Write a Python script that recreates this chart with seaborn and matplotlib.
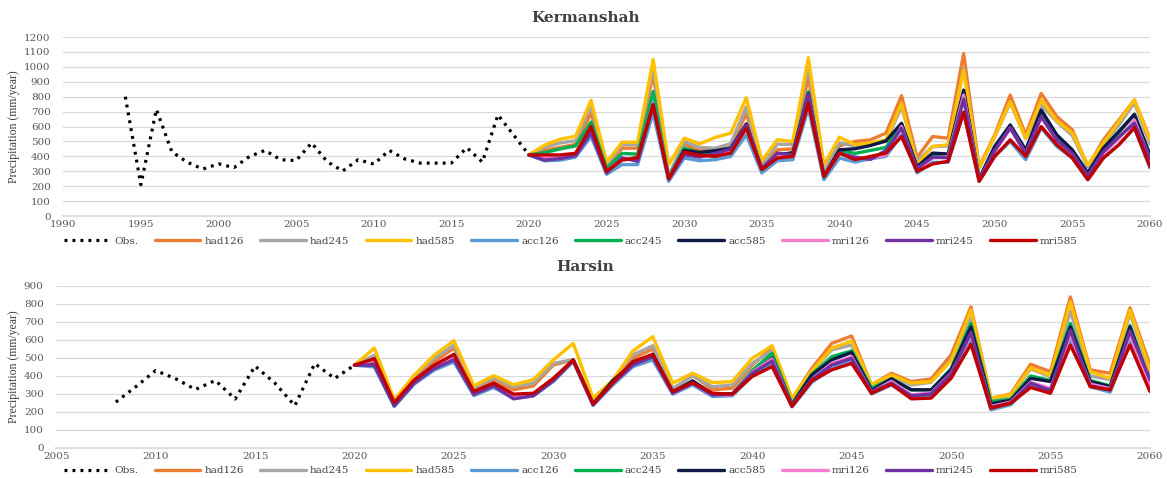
import matplotlib
matplotlib.use("Agg")
import matplotlib.pyplot as plt
import seaborn as sns
import pandas as pd

# ---- data -------------------------------------------------------------
proj_years = list(range(2020, 2061))

# Kermanshah observed
kerman_obs_years = list(range(1994, 2021))
kerman_obs = [800, 210, 715, 430, 360, 315, 350, 325, 400, 440, 378, 372, 490, 365,
              302, 378, 348, 440, 383, 355, 355, 355, 458, 362, 678, 545, 410]

# Kermanshah projections 2020-2060
kerman_had126 = [410, 440, 460, 480, 690, 330, 455, 455, 950, 260, 482, 438, 440, 460, 689, 330, 444, 451, 933, 290,
                 470, 500, 511, 556, 807, 393, 533, 522, 1089, 330, 544, 811, 544, 822, 667, 578, 330, 511, 644, 778, 520]
kerman_had245 = [410, 460, 490, 505, 740, 345, 478, 478, 1000, 270, 500, 460, 455, 485, 733, 345, 482, 480, 1011, 310,
                 490, 470, 480, 500, 733, 370, 465, 470, 989, 320, 530, 760, 520, 744, 633, 540, 330, 480, 610, 760, 480]
kerman_had585 = [410, 475, 515, 535, 775, 360, 495, 495, 1050, 345, 522, 484, 527, 556, 793, 371, 511, 500, 1062, 344,
                 529, 478, 489, 511, 756, 344, 467, 478, 978, 322, 535, 767, 522, 778, 640, 556, 344, 489, 633, 778, 511]
kerman_acc126 = [410, 370, 375, 395, 535, 280, 345, 345, 690, 233, 389, 371, 378, 400, 544, 289, 371, 378, 722, 244,
                 389, 362, 384, 400, 545, 289, 360, 360, 696, 233, 400, 500, 378, 590, 467, 389, 244, 389, 478, 590, 322]
kerman_acc245 = [410, 425, 450, 470, 630, 320, 420, 415, 835, 255, 455, 425, 430, 450, 610, 318, 410, 420, 833, 260,
                 440, 420, 440, 460, 620, 330, 410, 410, 830, 250, 460, 600, 440, 700, 540, 440, 280, 450, 560, 680, 400]
kerman_acc585 = [410, 395, 400, 415, 570, 300, 380, 390, 745, 255, 440, 427, 438, 455, 618, 318, 410, 425, 820, 265,
                 444, 451, 473, 504, 622, 330, 422, 416, 844, 250, 467, 611, 444, 711, 544, 444, 289, 456, 567, 682, 411]
kerman_mri126 = [410, 395, 400, 420, 580, 300, 385, 385, 755, 255, 425, 405, 405, 430, 600, 318, 400, 400, 800, 265,
                 420, 390, 385, 410, 600, 310, 389, 398, 811, 245, 430, 590, 420, 660, 510, 410, 260, 420, 520, 644, 380]
kerman_mri245 = [410, 375, 385, 405, 560, 290, 390, 367, 750, 250, 411, 395, 420, 450, 610, 318, 422, 410, 815, 265,
                 420, 395, 380, 440, 589, 320, 395, 390, 784, 245, 440, 589, 420, 667, 510, 420, 270, 430, 530, 622, 385]
kerman_mri585 = [410, 410, 410, 420, 600, 300, 375, 390, 745, 250, 429, 407, 400, 422, 589, 311, 389, 400, 755, 267,
                 422, 378, 400, 422, 533, 300, 349, 367, 696, 233, 400, 511, 400, 600, 478, 389, 244, 389, 478, 593, 333]

# Harsin observed
harsin_obs_years = list(range(2008, 2021))
harsin_obs = [255, 340, 430, 385, 325, 375, 272, 455, 360, 235, 469, 386, 460]

# Harsin projections 2020-2060
harsin_had126 = [460, 505, 250, 395, 478, 555, 323, 375, 323, 345, 461, 489, 255, 375, 498, 550, 320, 406, 323, 332,
                 460, 557, 270, 443, 581, 622, 350, 415, 369, 384, 517, 784, 275, 300, 465, 424, 839, 434, 415, 779, 461]
harsin_had245 = [460, 515, 255, 400, 496, 572, 335, 387, 340, 360, 470, 490, 255, 378, 517, 568, 330, 400, 340, 350,
                 470, 540, 265, 430, 545, 572, 345, 400, 350, 365, 490, 729, 270, 290, 440, 395, 760, 400, 380, 750, 420]
harsin_had585 = [460, 555, 267, 404, 515, 596, 345, 402, 351, 380, 489, 581, 277, 378, 539, 618, 360, 415, 363, 369,
                 498, 568, 277, 428, 554, 594, 351, 406, 360, 369, 483, 766, 277, 295, 446, 402, 812, 424, 387, 766, 434]
harsin_acc126 = [460, 450, 230, 355, 432, 478, 291, 336, 275, 290, 369, 480, 236, 351, 452, 489, 299, 351, 286, 290,
                 400, 470, 228, 365, 440, 490, 300, 350, 285, 290, 390, 600, 212, 240, 350, 310, 609, 340, 310, 590, 330]
harsin_acc245 = [460, 480, 240, 370, 450, 505, 305, 350, 285, 300, 380, 485, 245, 370, 470, 520, 310, 365, 300, 300,
                 430, 526, 245, 410, 507, 539, 332, 384, 323, 323, 440, 692, 258, 270, 400, 375, 692, 375, 345, 680, 370]
harsin_acc585 = [460, 470, 238, 370, 450, 505, 300, 350, 280, 295, 378, 489, 245, 375, 470, 520, 310, 373, 300, 300,
                 410, 500, 240, 406, 489, 531, 320, 384, 323, 323, 434, 673, 245, 265, 387, 369, 673, 369, 341, 673, 360]
harsin_mri126 = [460, 485, 240, 365, 445, 500, 300, 345, 285, 300, 380, 485, 240, 360, 465, 510, 305, 360, 295, 295,
                 420, 494, 235, 380, 470, 507, 310, 370, 295, 305, 415, 630, 231, 255, 365, 330, 630, 355, 330, 630, 345]
harsin_mri245 = [460, 460, 235, 360, 441, 490, 299, 345, 273, 290, 375, 485, 240, 360, 461, 507, 305, 360, 295, 300,
                 415, 483, 235, 380, 461, 498, 310, 360, 290, 300, 410, 642, 225, 250, 360, 320, 655, 345, 323, 650, 380]
harsin_mri585 = [460, 496, 252, 377, 460, 520, 314, 360, 299, 304, 387, 489, 245, 365, 480, 520, 314, 363, 304, 299,
                 397, 452, 231, 373, 434, 470, 304, 354, 273, 277, 387, 576, 221, 249, 336, 304, 572, 341, 323, 572, 314]

series_names = ["had126", "had245", "had585", "acc126", "acc245",
                "acc585", "mri126", "mri245", "mri585"]
series_colors = ["#ED7D31", "#A5A5A5", "#FFC000", "#5B9BD5", "#00B050",
                 "#0E1A45", "#F47FCF", "#7030A0", "#C00000"]

kerman_proj = [kerman_had126, kerman_had245, kerman_had585, kerman_acc126, kerman_acc245,
               kerman_acc585, kerman_mri126, kerman_mri245, kerman_mri585]
harsin_proj = [harsin_had126, harsin_had245, harsin_had585, harsin_acc126, harsin_acc245,
               harsin_acc585, harsin_mri126, harsin_mri245, harsin_mri585]

# ---- plotting ---------------------------------------------------------
sns.set_theme(style="white")
plt.rcParams["font.family"] = ["DejaVu Serif", "DejaVu Sans"]

fig = plt.figure(figsize=(11.71, 4.78), dpi=100)
ax_top = fig.add_axes([0.054, 0.548, 0.928, 0.3745])
ax_bot = fig.add_axes([0.048, 0.0628, 0.934, 0.339])

tick_color = "#595959"


def draw_panel(ax, obs_years, obs_vals, proj, xmin, ymax, title, title_y, legend_y):
    sns.lineplot(x=obs_years, y=obs_vals, color="black", linewidth=2.3,
                 linestyle=(0, (0.9, 1.6)), label="Obs.", ax=ax)
    for name, col, vals in zip(series_names, series_colors, proj):
        sns.lineplot(x=proj_years, y=vals, color=col, linewidth=2.4,
                     label=name, ax=ax, solid_joinstyle="round")
    ax.set_xlim(xmin, 2060)
    ax.set_ylim(0, ymax)
    ax.set_xticks(range(xmin, 2061, 5))
    ax.set_yticks(range(0, ymax + 1, 100))
    ax.grid(axis="y", color="#D9D9D9", linewidth=0.9)
    ax.grid(axis="x", visible=False)
    ax.set_axisbelow(True)
    for s in ["top", "right", "left"]:
        ax.spines[s].set_visible(False)
    ax.spines["bottom"].set_color("#D9D9D9")
    ax.tick_params(axis="both", length=0, labelsize=7.5, colors=tick_color)
    ax.tick_params(axis="y", pad=9)
    ax.tick_params(axis="x", pad=3)
    ax.set_xlabel("")
    ax.set_ylabel("Precipitation (mm/year)", family="Liberation Serif",
                  fontsize=8.5, color="#404040", labelpad=3)
    fig.text(0.50, title_y, title, ha="center", va="center", fontsize=11,
             fontweight="bold", color="#404040")
    handles, labels = ax.get_legend_handles_labels()
    ax.legend(handles, labels, ncol=10, loc="center left",
              bbox_to_anchor=(0.047, legend_y), bbox_transform=fig.transFigure,
              frameon=False, fontsize=7.5, handlelength=4.4, handletextpad=0.4,
              columnspacing=1.55, labelcolor="#404040")


draw_panel(ax_top, kerman_obs_years, kerman_obs, kerman_proj, 1990, 1200,
           "Kermanshah", 0.962, 0.496)
draw_panel(ax_bot, harsin_obs_years, harsin_obs, harsin_proj, 2005, 900,
           "Harsin", 0.441, 0.015)

fig.savefig("out.png", dpi=100)
